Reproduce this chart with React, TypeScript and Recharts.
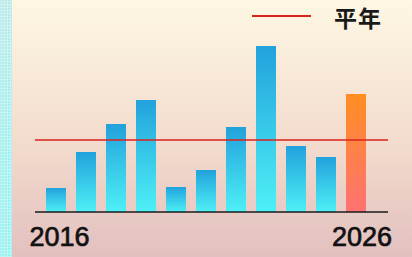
import React from "react";
import { BarChart, Bar, XAxis, YAxis, ReferenceLine, Cell } from "recharts";

const years = ["2016", "2017", "2018", "2019", "2020", "2021", "2022", "2023", "2024", "2025", "2026"];
const values = [24, 60, 88, 112, 25, 42, 85, 166, 66, 55, 118];
const normalValue = 72;
const tickLabels = ["2016", "2026"];
const legendLabel = "平年";

const data = years.map((y, i) => ({ year: y, value: values[i] }));

const YearTick = (props: any) => {
  const { x, y, payload, index } = props;
  if (!tickLabels.includes(payload.value)) return null;
  const dx = index === 0 ? 3.5 : 6;
  return (
    <text
      x={x + dx}
      y={y + 26}
      textAnchor="middle"
      fontFamily="'Liberation Sans', Arial, sans-serif"
      fontSize={27}
      fill="#111"
      stroke="#111"
      strokeWidth={0.7}
    >
      {payload.value}
    </text>
  );
};

export default function App() {
  return (
    <div
      style={{
        position: "fixed",
        left: 0,
        top: 0,
        width: 412,
        height: 257,
        background: "linear-gradient(to bottom, #fdf7e3 0%, #f3dccd 55%, #e2c0bf 100%)",
        overflow: "hidden",
      }}
    >
      <div
        style={{
          position: "absolute",
          left: 0,
          top: 0,
          width: 12,
          height: 257,
          background:
            "radial-gradient(circle, rgba(255,255,255,0.35) 1px, transparent 1.2px) 0 0 / 3px 3px, linear-gradient(to bottom, #b9eae8 0%, #a6eeee 50%, #98f0f0 100%)",
        }}
      />
      <BarChart
        width={412}
        height={257}
        data={data}
        margin={{ top: 32, right: 24, left: 35, bottom: 0 }}
        barSize={20}
        style={{ position: "absolute", left: 0, top: 0 }}
      >
        <defs>
          <linearGradient id="blueGrad" x1="0" y1="0" x2="0" y2="1">
            <stop offset="0%" stopColor="#22a2dc" />
            <stop offset="100%" stopColor="#4ef0f6" />
          </linearGradient>
          <linearGradient id="orangeGrad" x1="0" y1="0" x2="0" y2="1">
            <stop offset="0%" stopColor="#ff8e22" />
            <stop offset="100%" stopColor="#ff7272" />
          </linearGradient>
        </defs>
        <XAxis
          dataKey="year"
          height={45}
          padding={{ left: 6, right: 17 }}
          axisLine={{ stroke: "#1a1a1a", strokeWidth: 1.5 }}
          tickLine={false}
          interval={0}
          tick={<YearTick />}
        />
        <YAxis hide domain={[0, 180]} />
        <Bar dataKey="value" isAnimationActive={false}>
          {data.map((d, i) => (
            <Cell key={d.year} fill={i === data.length - 1 ? "url(#orangeGrad)" : "url(#blueGrad)"} />
          ))}
        </Bar>
        <ReferenceLine y={normalValue} stroke="#d9221c" strokeWidth={1.5} />
      </BarChart>
      <svg
        width={412}
        height={60}
        style={{ position: "absolute", left: 0, top: 0 }}
      >
        <line x1={252} x2={311} y1={16} y2={16} stroke="#d9221c" strokeWidth={1.8} />
        <text
          x={334}
          y={27}
          fontFamily="'Noto Sans CJK JP', 'Noto Sans CJK SC', sans-serif"
          fontWeight={700}
          fontSize={23}
          letterSpacing={1}
          fill="#1a1a1a"
        >
          {legendLabel}
        </text>
      </svg>
    </div>
  );
}
